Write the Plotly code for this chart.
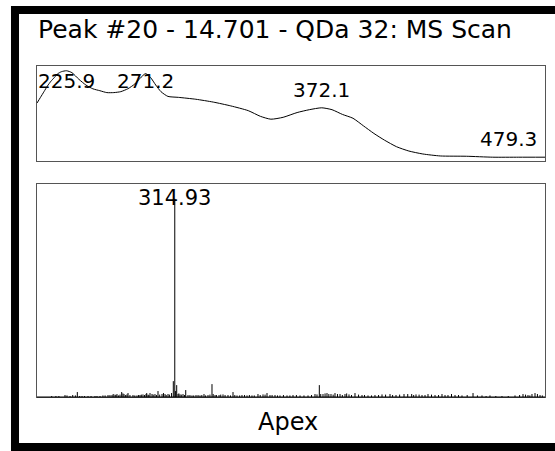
import plotly.graph_objects as go

# UV spectrum (nm, relative absorbance)
uv_nm = [209, 211, 213, 215, 217, 219, 221, 223, 225.9, 229, 233, 237, 241, 245, 249, 253,
         257, 261, 265, 268, 271.2, 274, 277, 280, 284, 290, 300, 310, 320, 330, 337, 343,
         350, 358, 365, 372.1, 378, 384, 390, 396, 402, 408, 415, 422, 430, 440, 455, 470,
         485, 500]
uv_abs = [61, 67, 73, 79, 84, 88, 92, 94, 95, 93, 86, 80, 76, 74, 72, 72,
          73, 76, 81, 87, 92, 88, 80, 73, 68, 67, 65, 62, 58, 53, 47, 44,
          46, 51, 54, 56, 54, 49, 45, 37, 29, 22, 15, 10.5, 7.4, 5.3, 5, 4,
          4, 4]
uv_labels = [225.9, 271.2, 372.1, 479.3]

# MS scan at the apex (m/z, % relative intensity): the visible ions ...
ms_mz = [87.2, 111.8, 115.5, 121.1, 126.1, 134.6, 143.3, 154.4, 167.3, 176.6, 191.4, 198.8,
         204.3, 208.0, 213.6, 216.7, 221.0, 226.5, 228.4, 237.6, 245.0, 250.6, 256.1, 261.7,
         265.4, 269.1, 272.8, 278.3, 283.9, 291.3, 296.9, 302.4, 312.2, 314.93, 318.5, 320.9,
         324.6, 330.2, 335.2, 339.4, 346.8, 354.2, 361.6, 369.0, 376.4, 383.8, 389.4, 396.8,
         404.2, 413.4, 422.7, 430.1, 439.3, 448.6, 457.8, 468.9, 478.2, 485.6, 491.1, 500.4,
         509.6, 522.6, 533.7, 546.7, 561.5, 574.4, 578.1, 582.4, 589.2, 596.6, 604.0, 611.4,
         620.7, 629.9, 637.3, 648.4, 661.4, 672.5, 685.4, 698.4, 713.2, 724.3, 739.1, 753.3,
         761.3, 772.4, 783.5, 796.5, 809.4, 820.5, 833.5, 846.4, 866.8, 883.4, 898.2, 920.4,
         944.5, 959.3, 968.5, 975.9, 981.5, 990.8]
ms_int = [0.5, 1.0, 0.8, 0.5, 1.0, 2.5, 0.5, 0.5, 0.5, 0.5, 1.0, 1.0,
          1.2, 1.5, 1.2, 2.5, 1.5, 1.3, 2.0, 1.0, 0.8, 1.0, 1.3, 1.5,
          1.2, 2.0, 1.5, 1.5, 3.0, 1.5, 1.5, 1.5, 8.0, 100, 6.0, 1.5,
          1.3, 1.5, 3.5, 1.0, 0.8, 1.0, 0.8, 1.5, 1.0, 6.5, 1.0, 1.0,
          1.3, 1.0, 2.5, 0.8, 1.0, 0.8, 0.8, 1.5, 1.3, 2.0, 1.0, 1.0,
          0.8, 0.8, 1.0, 0.8, 0.8, 1.5, 1.3, 6.0, 1.5, 2.0, 1.5, 2.0,
          1.5, 1.5, 1.3, 2.0, 1.0, 0.8, 1.0, 1.3, 1.5, 1.0, 1.5, 1.5,
          1.3, 1.0, 1.5, 1.0, 1.5, 1.0, 1.0, 0.8, 2.0, 0.8, 0.8, 0.5,
          0.8, 1.5, 1.0, 1.5, 2.0, 1.0]
# ... and the low-level chemical noise between them
noise_mz = [95, 100.5, 131, 139, 148, 160, 171, 182, 186, 195, 201, 206, 211, 219, 224, 232,
            241, 248, 253, 259, 263, 267, 275, 281, 287, 294, 299, 305, 309, 316.5, 322.5, 327,
            333, 343, 350, 358, 365, 372, 380, 386, 392, 400, 408, 418, 426, 435, 444, 453,
            462, 473, 482, 495, 505, 516, 528, 540, 554, 568, 585, 593, 600, 608, 616, 625,
            633, 642, 655, 666, 679, 692, 705, 718, 731, 746, 757, 767, 778, 790, 803, 815,
            827, 840, 856, 875, 891, 909, 932, 953, 964, 972, 986, 995]
noise_int = [0.5, 0.5, 0.8, 0.5, 0.5, 0.5, 0.5, 0.8, 0.8, 1.0, 1.5, 1.0, 0.8, 1.8, 1.0, 1.0,
             0.8, 1.0, 1.2, 1.0, 2.0, 1.0, 1.2, 1.0, 1.2, 2.0, 1.0, 1.2, 2.0, 3.0, 1.8, 1.2,
             1.0, 1.0, 0.8, 1.0, 1.0, 0.8, 1.2, 1.5, 1.0, 1.2, 1.0, 0.8, 1.0, 0.8, 1.0, 1.0,
             0.8, 1.0, 1.2, 1.0, 0.8, 1.0, 0.8, 1.0, 0.8, 1.0, 1.5, 1.8, 1.5, 1.2, 1.5, 1.0,
             1.8, 1.0, 1.2, 1.0, 0.8, 1.0, 1.2, 1.0, 1.2, 1.5, 1.0, 1.2, 1.0, 1.2, 1.0, 1.0,
             1.5, 1.0, 1.0, 0.8, 0.5, 0.5, 0.5, 1.0, 1.2, 0.8, 1.5, 0.8]
ms_label = 314.93

TITLE = "Peak #20 - 14.701 - QDa 32: MS Scan"
FOOT = "Apex"
FONT = "DejaVu Sans"

# sticks: one vertical segment per ion
sx, sy = [], []
for m, v in zip(ms_mz + noise_mz, ms_int + noise_int):
    sx += [m, m, None]
    sy += [0, v, None]

fig = go.Figure()
fig.add_trace(go.Scatter(x=uv_nm, y=uv_abs, mode="lines", line=dict(color="black", width=1,
                         shape="spline", smoothing=0.6), xaxis="x2", yaxis="y2",
                         hoverinfo="skip", showlegend=False))
fig.add_trace(go.Scatter(x=sx, y=sy, mode="lines", line=dict(color="black", width=1),
                         xaxis="x", yaxis="y", hoverinfo="skip", showlegend=False))

ann = []
for lx in uv_labels:
    # label sits just above the curve, pushed down inside the frame near the top
    nearest = min(range(len(uv_nm)), key=lambda i: abs(uv_nm[i] - lx))
    yv = uv_abs[nearest]
    if yv > 75:
        ann.append(dict(x=lx, y=1, xref="x2", yref="y2 domain", yanchor="top", yshift=-1,
                        text=f"{lx}", showarrow=False, font=dict(family=FONT, size=20, color="black")))
    else:
        ann.append(dict(x=lx, y=yv, xref="x2", yref="y2", yanchor="bottom", yshift=4,
                        text=f"{lx}", showarrow=False, font=dict(family=FONT, size=20, color="black")))
ann.append(dict(x=ms_label, y=100, xref="x", yref="y", yanchor="middle", yshift=1,
                text=f"{ms_label:.2f}", showarrow=False, font=dict(family=FONT, size=21, color="black")))
ann.append(dict(x=0.4685, y=1.1088, xref="paper", yref="paper", yanchor="middle", xanchor="center",
                text=TITLE, showarrow=False, font=dict(family=FONT, size=25, color="black")))
ann.append(dict(x=0.495, y=-0.0743, xref="paper", yref="paper", yanchor="middle", xanchor="center",
                text=FOOT, showarrow=False, font=dict(family=FONT, size=24, color="black")))

# thick black border: left, top and bottom bars (the right one falls outside the picture)
bar = dict(type="rect", xref="paper", yref="paper", fillcolor="black", line=dict(width=0), layer="above")
shapes = [
    dict(bar, x0=-0.0512, x1=-0.0354, y0=-0.1631, y1=1.1813),
    dict(bar, x0=-0.0512, x1=1.0197, y0=1.1571, y1=1.1813),
    dict(bar, x0=-0.0512, x1=1.0197, y0=-0.1631, y1=-0.1390),
    # black baseline of the mass spectrum
    dict(type="line", xref="paper", yref="paper", x0=0, x1=1, y0=0, y1=0,
         line=dict(color="black", width=1), layer="above"),
]

frame = dict(showline=True, mirror=True, linecolor="#555", linewidth=1, showgrid=False,
             zeroline=False, showticklabels=False, ticks="")
fig.update_layout(
    width=555, height=451, margin=dict(l=37, r=10, t=66, b=54),
    paper_bgcolor="white", plot_bgcolor="white", showlegend=False,
    xaxis=dict(frame, domain=[0, 1], range=[60, 1000]),
    yaxis=dict(frame, domain=[0, 0.6435], range=[0, 107.5]),
    xaxis2=dict(frame, domain=[0, 1], range=[209, 500], anchor="y2"),
    yaxis2=dict(frame, domain=[0.713, 1], range=[0, 100], anchor="x2"),
    annotations=ann,
    shapes=shapes,
)
# no body margin and no scrollbars, so the figure fills the window exactly
fig.write_html("out.html", config={"displayModeBar": False},
               post_script="document.body.style.margin = '0';"
                           "document.documentElement.style.overflow = 'hidden';")
